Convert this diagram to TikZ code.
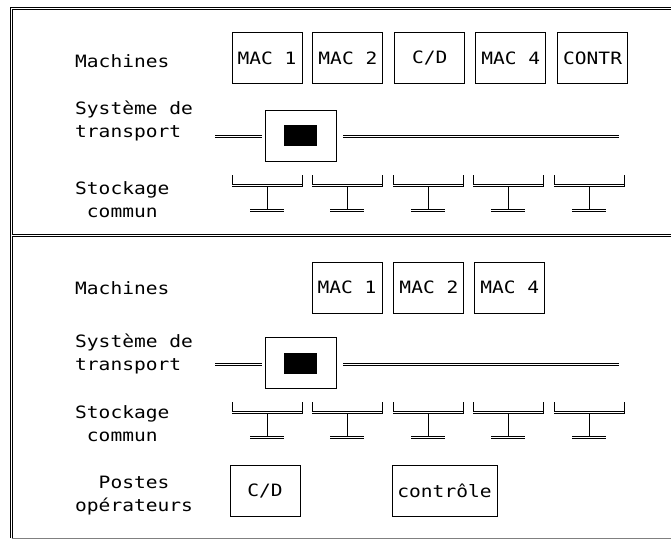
\documentclass[tikz,border=0pt]{standalone}
\usepackage{fontspec}
\setmonofont[FakeStretch=1.15]{DejaVu Sans Mono}
\usetikzlibrary{positioning}

\tikzset{
  txt/.style={font=\ttfamily\fontsize{17}{23}\selectfont},
  lbl/.style={txt, anchor=west, align=left, inner sep=0pt},
  mac/.style={txt, draw, line width=0.9pt, minimum width=70pt, minimum height=51pt, inner sep=0pt},
  cart/.style={draw, line width=0.9pt, minimum width=71pt, minimum height=51pt, inner sep=0pt},
  load/.style={fill=black, minimum width=33pt, minimum height=21pt, inner sep=0pt},
  rail/.style={double, double distance=1.3pt, line width=1.1pt},
  frame/.style={double, double distance=1.2pt, line width=1.1pt},
  tick/.style={line width=0.9pt},
}

\begin{document}
\begin{tikzpicture}[x=1pt, y=-1pt]
\useasboundingbox (0,0) rectangle (671,540);

% frame
\draw[frame] (671,8.5) -- (11.5,8.5) -- (11.5,538);
\draw[frame] (11.5,235.5) -- (671,235.5);
\draw[line width=1pt, gray] (11.5,538) -- (671,538);

% ---- top panel ----
\node[lbl] (machA) at (75,61) {Machines};
\node[lbl] (transA) at (75,121) {Système de\\transport};
\node[lbl, align=center] (stockA) at (75,200) {Stockage\\commun};

\node[mac] (m1A) at (267,58) {MAC 1};
\node[mac, right=10pt of m1A] (m2A) {MAC 2};
\node[mac, right=11pt of m2A] (cdA) {C/D};
\node[mac, right=10pt of cdA] (m4A) {MAC 4};
\node[mac, right=11pt of m4A] (ctrA) {CONTR};

\node[cart] (cartA) at (300.5,136) {};
\node[load] (loadA) at (cartA) {};
\coordinate (railAw) at (215,136.5);
\coordinate (railAe) at (619,136.5);
\draw[rail] (railAw) -- ([xshift=-3pt,yshift=-0.5pt]cartA.west);
\draw[rail] ([xshift=7pt,yshift=-0.5pt]cartA.east) -- (railAe);

% ---- bottom panel ----
\node[lbl] (machB) at (75,288) {Machines};
\node[lbl] (transB) at (75,354) {Système de\\transport};
\node[lbl, align=center] (stockB) at (75,424) {Stockage\\commun};
\node[lbl, align=center] (postB) at (75,496) {Postes\\opérateurs};

\node[mac] (m1B) at (347,287.5) {MAC 1};
\node[mac, right=11pt of m1B] (m2B) {MAC 2};
\node[mac, right=10pt of m2B] (m4B) {MAC 4};

\node[cart] (cartB) at (300.5,363) {};
\node[load] (loadB) at (cartB) {};
\coordinate (railBw) at (215,364.5);
\coordinate (railBe) at (619,364.5);
\draw[rail] (railBw) -- ([xshift=-3pt,yshift=-1.5pt]cartB.west);
\draw[rail] ([xshift=7pt,yshift=-1.5pt]cartB.east) -- (railBe);

\node[mac] (cdB) at (265,491) {C/D};
\node[mac, minimum width=105pt] (ctrB) at (444.5,491) {contrôle};

% storage racks, both panels
\foreach \dy in {0,227}
  \foreach \x in {232,312,393,473,554} {
    \draw[tick] (\x,175+\dy) -- (\x,187+\dy);
    \draw[tick] (\x+70,175+\dy) -- (\x+70,187+\dy);
    \draw[rail] (\x,185.5+\dy) -- (\x+70,185.5+\dy);
    \draw[tick] (\x+35,187+\dy) -- (\x+35,209+\dy);
    \draw[rail] (\x+18,210.5+\dy) -- (\x+52,210.5+\dy);
  }
\end{tikzpicture}
\end{document}
